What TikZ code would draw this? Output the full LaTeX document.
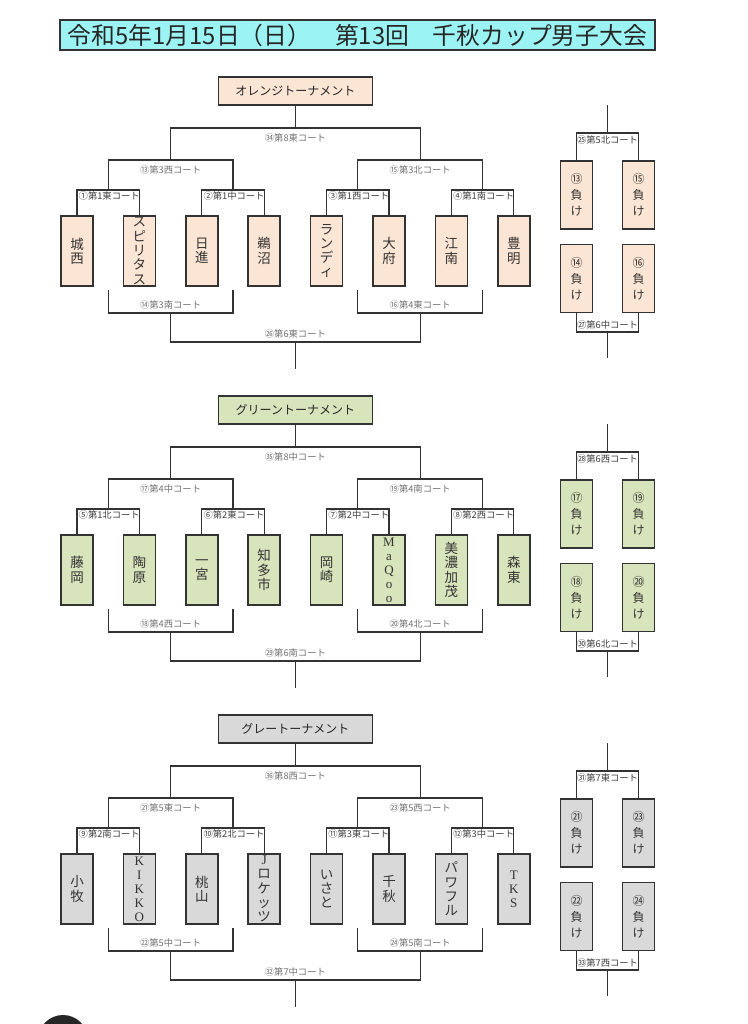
\documentclass[tikz,border=0pt]{standalone}
\usepackage{fontspec}
\setmainfont{Noto Sans CJK JP}
\newfontfamily\serf{Liberation Serif}
\definecolor{linec}{HTML}{333333}
\definecolor{orng}{HTML}{FBE5D5}
\definecolor{grn}{HTML}{D8E4BC}
\definecolor{gry}{HTML}{D9D9D9}
\definecolor{ttl}{HTML}{9CF3F3}
\tikzset{
 team/.style={draw=linec, line width=1.7pt, minimum width=32pt, minimum height=70pt, inner sep=0pt, align=center, text=black!80, font=\fontsize{13.5}{14.3}\selectfont},
 tser/.style={team, font=\serf\fontsize{13}{14}\selectfont},
 lose/.style={team, minimum height=68pt, font=\fontsize{12}{16}\selectfont},
 hdr/.style={draw=linec, line width=1.7pt, minimum width=154pt, minimum height=28pt, inner sep=0pt, font=\fontsize{12}{12}\selectfont, text=black!85},
 br/.style={draw=linec, line width=1.3pt},
 lab/.style={inner sep=0pt, font=\fontsize{9.3}{9.5}\selectfont, text=black!75},
 labg/.style={lab, text=black!55},
}
\newcommand\Frame[1]{%
 \coordinate (#1p) at (108.2,190); \coordinate (#1q) at (233,190);
 \coordinate (#1r) at (357.8,190); \coordinate (#1s) at (482.6,190);
 \coordinate (#1u) at (170.6,160); \coordinate (#1v) at (420.2,160);
 \coordinate (#1t) at (295.4,128);
 \draw[br] (#11.north) |- (#1p) -| (#12.north);
 \draw[br] (#13.north) |- (#1q) -| (#14.north);
 \draw[br] (#15.north) |- (#1r) -| (#16.north);
 \draw[br] (#17.north) |- (#1s) -| (#18.north);
 \draw[br] (#1p) |- (#1u) -| (#1q);
 \draw[br] (#1r) |- (#1v) -| (#1s);
 \draw[br] (#1u) |- (#1t) -| (#1v);
 \draw[br] (#1t) -- (#1h.south);
 \coordinate (#1pB) at (108.2,290); \coordinate (#1qB) at (233,290);
 \coordinate (#1rB) at (357.8,290); \coordinate (#1sB) at (482.6,290);
 \coordinate (#1uB) at (170.6,313); \coordinate (#1vB) at (420.2,313);
 \coordinate (#1tB) at (295.4,342); \coordinate (#1eB) at (295.4,369);
 \draw[br] (#1pB) |- (#1uB) -| (#1qB);
 \draw[br] (#1rB) |- (#1vB) -| (#1sB);
 \draw[br] (#1uB) |- (#1tB) -| (#1vB);
 \draw[br] (#1tB) -- (#1eB);
 \coordinate (#1Rt) at (607.5,133); \coordinate (#1Rs) at (607.5,105);
 \coordinate (#1Rm) at (607.5,332); \coordinate (#1Re) at (607.5,358);
 \draw[br] (#1a.north) |- (#1Rt) -| (#1b.north);
 \draw[br] (#1Rt) -- (#1Rs);
 \draw[br] (#1c.south) |- (#1Rm) -| (#1d.south);
 \draw[br] (#1Rm) -- (#1Re);
}
\begin{document}
\begin{tikzpicture}[x=1pt,y=-1pt]
\useasboundingbox (0,0) rectangle (747,1024);
\fill[white] (0,0) rectangle (747,1024);
\node[draw=linec, line width=1.8pt, fill=ttl, minimum width=595pt, minimum height=30pt, inner sep=0pt, font=\fontsize{23.8}{24}\selectfont, text=black!85] (title) at (357.5,35) {令和5年1月15日（日）　第13回　千秋カップ男子大会};

% ---------------- Orange
\begin{scope}
\node[hdr, fill=orng] (oh) at (295.4,91) {オレンジトーナメント};
\node[team, fill=orng] (o1) at (77,251) {城\\西};
\node[team, fill=orng] (o2) at (139.4,251) {ス\\ピ\\リ\\タ\\ス};
\node[team, fill=orng] (o3) at (201.8,251) {日\\進};
\node[team, fill=orng] (o4) at (264.2,251) {鵜\\沼};
\node[team, fill=orng] (o5) at (326.6,251) {ラ\\ン\\デ\\ィ};
\node[team, fill=orng] (o6) at (389,251) {大\\府};
\node[team, fill=orng] (o7) at (451.4,251) {江\\南};
\node[team, fill=orng] (o8) at (513.8,251) {豊\\明};
\node[lose, fill=orng] (oa) at (576.5,195) {⑬\\負\\け};
\node[lose, fill=orng] (ob) at (638.5,195) {⑮\\負\\け};
\node[lose, fill=orng] (oc) at (576.5,278.5) {⑭\\負\\け};
\node[lose, fill=orng] (od) at (638.5,278.5) {⑯\\負\\け};
\Frame{o}
\node[lab, anchor=west] (ol1) at (78.5,196) {①第1東コート};
\node[lab, anchor=west] (ol2) at (203.3,196) {②第1中コート};
\node[lab, anchor=west] (ol3) at (328.1,196) {③第1西コート};
\node[lab, anchor=west] (ol4) at (452.9,196) {④第1南コート};
\node[labg] (ol5) at (170.6,170) {⑬第3西コート};
\node[labg] (ol6) at (420.2,170) {⑮第3北コート};
\node[labg] (ol7) at (295.4,138) {㉞第8東コート};
\node[labg] (ol8) at (170.6,305) {⑭第3南コート};
\node[labg] (ol9) at (420.2,305) {⑯第4東コート};
\node[labg] (ol10) at (295.4,334) {㉖第6東コート};
\node[lab] (ol11) at (607.5,140) {㉕第5北コート};
\node[lab] (ol12) at (607.5,325) {㉗第6中コート};
\end{scope}

% ---------------- Green
\begin{scope}[shift={(0,319)}]
\node[hdr, fill=grn] (gh) at (295.4,91) {グリーントーナメント};
\node[team, fill=grn] (g1) at (77,251) {藤\\岡};
\node[team, fill=grn] (g2) at (139.4,251) {陶\\原};
\node[team, fill=grn] (g3) at (201.8,251) {一\\宮};
\node[team, fill=grn] (g4) at (264.2,251) {知\\多\\市};
\node[team, fill=grn] (g5) at (326.6,251) {岡\\崎};
\node[tser, fill=grn] (g6) at (389,251) {M\\a\\Q\\o\\o};
\node[team, fill=grn] (g7) at (451.4,251) {美\\濃\\加\\茂};
\node[team, fill=grn] (g8) at (513.8,251) {森\\東};
\node[lose, fill=grn] (ga) at (576.5,195) {⑰\\負\\け};
\node[lose, fill=grn] (gb) at (638.5,195) {⑲\\負\\け};
\node[lose, fill=grn] (gc) at (576.5,278.5) {⑱\\負\\け};
\node[lose, fill=grn] (gd) at (638.5,278.5) {⑳\\負\\け};
\Frame{g}
\node[lab, anchor=west] (gl1) at (78.5,196) {⑤第1北コート};
\node[lab, anchor=west] (gl2) at (203.3,196) {⑥第2東コート};
\node[lab, anchor=west] (gl3) at (328.1,196) {⑦第2中コート};
\node[lab, anchor=west] (gl4) at (452.9,196) {⑧第2西コート};
\node[labg] (gl5) at (170.6,170) {⑰第4中コート};
\node[labg] (gl6) at (420.2,170) {⑲第4南コート};
\node[labg] (gl7) at (295.4,138) {㉟第8中コート};
\node[labg] (gl8) at (170.6,305) {⑱第4西コート};
\node[labg] (gl9) at (420.2,305) {⑳第4北コート};
\node[labg] (gl10) at (295.4,334) {㉙第6南コート};
\node[lab] (gl11) at (607.5,140) {㉘第6西コート};
\node[lab] (gl12) at (607.5,325) {㉚第6北コート};
\end{scope}

% ---------------- Gray
\begin{scope}[shift={(0,638)}]
\node[hdr, fill=gry] (kh) at (295.4,91) {グレートーナメント};
\node[team, fill=gry] (k1) at (77,251) {小\\牧};
\node[tser, fill=gry] (k2) at (139.4,251) {K\\I\\K\\K\\O};
\node[team, fill=gry] (k3) at (201.8,251) {桃\\山};
\node[team, fill=gry] (k4) at (264.2,251) {{\serf J}\\ロ\\ケ\\ッ\\ツ};
\node[team, fill=gry] (k5) at (326.6,251) {い\\さ\\と};
\node[team, fill=gry] (k6) at (389,251) {千\\秋};
\node[team, fill=gry] (k7) at (451.4,251) {パ\\ワ\\フ\\ル};
\node[tser, fill=gry] (k8) at (513.8,251) {T\\K\\S};
\node[lose, fill=gry] (ka) at (576.5,195) {㉑\\負\\け};
\node[lose, fill=gry] (kb) at (638.5,195) {㉓\\負\\け};
\node[lose, fill=gry] (kc) at (576.5,278.5) {㉒\\負\\け};
\node[lose, fill=gry] (kd) at (638.5,278.5) {㉔\\負\\け};
\Frame{k}
\node[lab, anchor=west] (kl1) at (78.5,196) {⑨第2南コート};
\node[lab, anchor=west] (kl2) at (203.3,196) {⑩第2北コート};
\node[lab, anchor=west] (kl3) at (328.1,196) {⑪第3東コート};
\node[lab, anchor=west] (kl4) at (452.9,196) {⑫第3中コート};
\node[labg] (kl5) at (170.6,170) {㉑第5東コート};
\node[labg] (kl6) at (420.2,170) {㉓第5西コート};
\node[labg] (kl7) at (295.4,138) {㊱第8西コート};
\node[labg] (kl8) at (170.6,305) {㉒第5中コート};
\node[labg] (kl9) at (420.2,305) {㉔第5南コート};
\node[labg] (kl10) at (295.4,334) {㉜第7中コート};
\node[lab] (kl11) at (607.5,140) {㉛第7東コート};
\node[lab] (kl12) at (607.5,325) {㉝第7西コート};
\end{scope}

\fill[black!85] (63,1040) circle (25);
\fill[black!35] (70,1030) circle (6);
\end{tikzpicture}
\end{document}
